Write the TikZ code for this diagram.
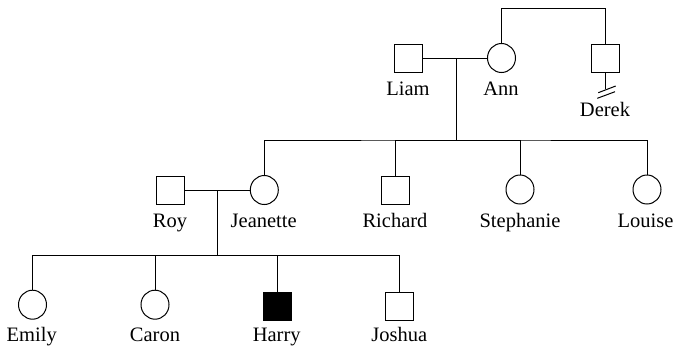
\documentclass[tikz,border=0pt]{standalone}
\usepackage{fontspec}
\setmainfont{Liberation Serif}
\usetikzlibrary{shapes.geometric,calc}
\begin{document}
\begin{tikzpicture}[x=1pt,y=-1pt,line width=1pt,
  male/.style={draw,rectangle,minimum size=28pt,inner sep=0pt,outer sep=0pt},
  female/.style={draw,ellipse,minimum width=28pt,minimum height=29pt,inner sep=0pt,outer sep=0pt},
  affected/.style={fill=black},
  lbl/.style={anchor=base,inner sep=0pt,font=\fontsize{20.5}{24}\selectfont}]
\useasboundingbox (0,0) rectangle (677,349);
% generation I
\node[male] (liam) at (408,58) {};
\node[female] (ann) at (501.5,58) {};
\node[male] (derek) at (605.5,58) {};
\node[lbl] (liamL) at (408,95) {Liam};
\node[lbl] (annL) at (501,95) {Ann};
\node[lbl] (derekL) at (605,116.5) {Derek};
% generation II
\node[male] (roy) at (170.5,190) {};
\node[female] (jeanette) at (264.3,190) {};
\node[male] (richard) at (395,190) {};
\node[female] (stephanie) at (520,189.5) {};
\node[female] (louise) at (647,189.5) {};
\node[lbl] (royL) at (170,227.3) {Roy};
\node[lbl] (jeanetteL) at (263.7,227.3) {Jeanette};
\node[lbl] (richardL) at (395,227.3) {Richard};
\node[lbl] (stephanieL) at (520,227.3) {Stephanie};
\node[lbl] (louiseL) at (645.5,227.3) {Louise};
% generation III
\node[female] (emily) at (32.5,304.7) {};
\node[female] (caron) at (155,304.7) {};
\node[male,affected] (harry) at (277.5,306.8) {};
\node[male] (joshua) at (399.8,306.8) {};
\node[lbl] (emilyL) at (31.7,341.7) {Emily};
\node[lbl] (caronL) at (155,341.7) {Caron};
\node[lbl] (harryL) at (276.7,341.7) {Harry};
\node[lbl] (joshuaL) at (399.3,341.7) {Joshua};
% coordinates
\coordinate (m1) at (456,58);
\coordinate (s1) at (456,140);
\coordinate (top) at (553,8.5);
\coordinate (dend) at (605.5,89);
\coordinate (m2) at (217.6,190);
\coordinate (s2) at (217.6,255.7);
% generation I connectors
\draw (liam.east) -- (ann.west);
\draw (m1) -- (s1);
\draw (ann.north) |- (top) -| (derek.north);
\draw (derek.south) -- (dend);
\draw (598.3,92.7) -- (615.7,86);
\draw (597.3,98.3) -- (615,91.7);
% sibship II
\draw (jeanette.north) |- (s1) -| (louise.north);
\draw (s1) -| (richard.north);
\draw (s1) -| (stephanie.north);
% generation II connectors
\draw (roy.east) -- (jeanette.west);
\draw (m2) -- (s2);
\draw (emily.north) |- (s2) -| (joshua.north);
\draw (s2) -| (caron.north);
\draw (s2) -| (harry.north);
\end{tikzpicture}
\end{document}
